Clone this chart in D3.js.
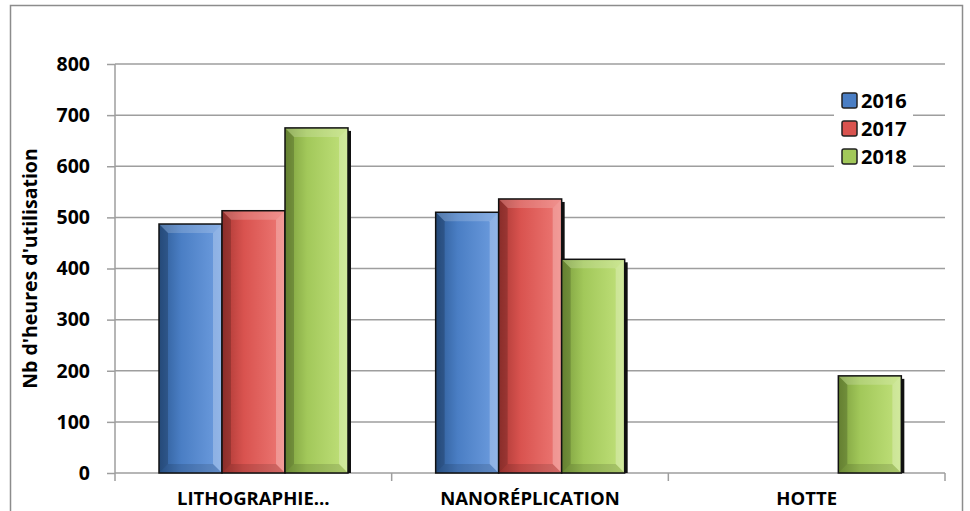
<!DOCTYPE html>
<html>
<head>
<meta charset="utf-8">
<script src="https://cdn.jsdelivr.net/npm/d3@7"></script>
<style>
  body { margin: 0; background: #fff; }
  text { font-family: "Open Sans", sans-serif; font-weight: bold; fill: #000; }
</style>
</head>
<body>
<svg id="vimage" width="970" height="511"></svg>
<script>
//---------------------------------------- data ---------------------------------------
var categories = ["LITHOGRAPHIE…", "NANORÉPLICATION", "HOTTE"];
var years = ["2016", "2017", "2018"];
var values2016 = [487, 510, 0];
var values2017 = [513, 536, 0];
var values2018 = [675, 418, 190];
var yTicks = [0, 100, 200, 300, 400, 500, 600, 700, 800];

var seriesValues = [values2016, values2017, values2018];
var colors = {"2016": "#4a7ec4", "2017": "#d9534f", "2018": "#a2c85a"};
var dark = {"2016": "#2d5a94", "2017": "#a83733", "2018": "#7a9c3c"};
var light = {"2016": "#6f9ee0", "2017": "#ee7a76", "2018": "#c2e27c"};

var svg = d3.select("#vimage");

// outer frame (bottom edge is cut off)
svg.append("rect")
    .attr("x", 10.5).attr("y", 5.5)
    .attr("width", 952).attr("height", 520)
    .style("fill", "white")
    .style("stroke", "#8c8c8c")
    .style("stroke-width", 1.5);

var plotLeft = 115, plotRight = 945, plotTop = 64, plotBottom = 473;

var x = d3.scaleBand().domain(categories).range([plotLeft, plotRight]);
var xs = d3.scaleBand().domain(years).range([44, 233]);
var y = d3.scaleLinear().domain([0, 800]).range([plotBottom, plotTop]);

//---------------------------------------- grid + axes ---------------------------------------
svg.append("g").selectAll("line")
    .data(yTicks.slice(1))
    .enter().append("line")
    .attr("x1", plotLeft).attr("x2", plotRight)
    .attr("y1", function(d) { return y(d); })
    .attr("y2", function(d) { return y(d); })
    .style("stroke", "#9e9e9e")
    .style("stroke-width", 1.5);

var yAxis = svg.append("g")
    .attr("transform", "translate(" + plotLeft + ",0)")
    .call(d3.axisLeft(y).tickValues(yTicks).tickSize(8).tickPadding(17));
yAxis.selectAll("line, path").style("stroke", "#9e9e9e").style("stroke-width", 1.5);
yAxis.select(".domain").attr("d", "M0," + plotTop + "V" + plotBottom);
yAxis.selectAll("text").style("font-size", "19.5px").style("font-family", "'Open Sans', sans-serif").style("font-weight", "bold").attr("fill", "#000");

var xAxis = svg.append("g")
    .attr("transform", "translate(0," + plotBottom + ")")
    .call(d3.axisBottom(x).tickSize(0).tickPadding(19));
xAxis.select(".domain").remove();
xAxis.selectAll("text").style("font-size", "18.5px").style("font-family", "'Open Sans', sans-serif").style("font-weight", "bold").attr("fill", "#000");

// tick marks at category boundaries
var bounds = categories.map(function(c) { return x(c); }).concat([plotRight]);
svg.append("line")
    .attr("x1", plotLeft).attr("x2", plotRight).attr("y1", plotBottom).attr("y2", plotBottom)
    .style("stroke", "#9e9e9e").style("stroke-width", 1.5);
svg.append("g").selectAll("line")
    .data(bounds)
    .enter().append("line")
    .attr("x1", function(d) { return d; }).attr("x2", function(d) { return d; })
    .attr("y1", plotBottom).attr("y2", plotBottom + 8)
    .style("stroke", "#9e9e9e").style("stroke-width", 1.5);

svg.append("text")
    .attr("transform", "translate(37," + ((plotTop + plotBottom) / 2) + ") rotate(-90)")
    .attr("text-anchor", "middle")
    .style("font-size", "19.5px")
    .text("Nb d'heures d'utilisation");

//---------------------------------------- bars ---------------------------------------
var barData = [];
categories.forEach(function(c, i) {
    years.forEach(function(yr, j) {
        if (seriesValues[j][i] > 0) barData.push({cat: c, year: yr, value: seriesValues[j][i]});
    });
});

var defs = svg.append("defs");
years.forEach(function(yr) {
    var g = defs.append("linearGradient").attr("id", "grad" + yr)
        .attr("x1", "0").attr("x2", "1").attr("y1", "0").attr("y2", "0");
    g.append("stop").attr("offset", "0").attr("stop-color", dark[yr]);
    g.append("stop").attr("offset", "0.35").attr("stop-color", colors[yr]);
    g.append("stop").attr("offset", "1").attr("stop-color", light[yr]);
});

var bars = svg.append("g").selectAll("g")
    .data(barData)
    .enter().append("g");

// shadow on the right
bars.append("rect")
    .attr("x", function(d) { return x(d.cat) + xs(d.year) + 3; })
    .attr("y", function(d) { return y(d.value) + 3; })
    .attr("width", xs.bandwidth())
    .attr("height", function(d) { return plotBottom - y(d.value) - 3; })
    .style("fill", "#111");

bars.append("rect")
    .attr("x", function(d) { return x(d.cat) + xs(d.year); })
    .attr("y", function(d) { return y(d.value); })
    .attr("width", xs.bandwidth())
    .attr("height", function(d) { return plotBottom - y(d.value); })
    .style("fill", function(d) { return "url(#grad" + d.year + ")"; });

var b = 9;
function bevel(d, side) {
    var x0 = x(d.cat) + xs(d.year), x1 = x0 + xs.bandwidth();
    var y0 = y(d.value), y1 = plotBottom;
    var p;
    if (side == "top") p = [[x0, y0], [x1, y0], [x1 - b, y0 + b], [x0 + b, y0 + b]];
    if (side == "right") p = [[x1, y0], [x1, y1], [x1 - b, y1 - b], [x1 - b, y0 + b]];
    if (side == "bottom") p = [[x0, y1], [x1, y1], [x1 - b, y1 - b], [x0 + b, y1 - b]];
    if (side == "left") p = [[x0, y0], [x0 + b, y0 + b], [x0 + b, y1 - b], [x0, y1]];
    return "M" + p.join("L") + "Z";
}
[["top", "#fff", 0.18], ["right", "#fff", 0.25], ["bottom", "#000", 0.12], ["left", "#000", 0.18]].forEach(function(s) {
    bars.append("path")
        .attr("d", function(d) { return bevel(d, s[0]); })
        .style("fill", s[1])
        .style("fill-opacity", s[2]);
});

bars.append("rect")
    .attr("x", function(d) { return x(d.cat) + xs(d.year); })
    .attr("y", function(d) { return y(d.value); })
    .attr("width", xs.bandwidth())
    .attr("height", function(d) { return plotBottom - y(d.value); })
    .style("fill", "none")
    .style("stroke", "#111")
    .style("stroke-width", 1.5);

//---------------------------------------- legend ---------------------------------------
var legend = svg.append("g").attr("transform", "translate(834,86)");
legend.append("rect").attr("x", 0).attr("y", 0).attr("width", 79).attr("height", 84).style("fill", "white");

var legendElements = legend.selectAll("g.item")
    .data(years)
    .enter().append("g")
    .attr("class", "item")
    .attr("transform", function(d, i) { return "translate(8," + (7 + i * 28) + ")"; });

legendElements.append("rect")
    .attr("x", 0).attr("y", 0).attr("width", 15).attr("height", 15)
    .attr("rx", 2)
    .style("fill", function(d) { return colors[d]; })
    .style("stroke", "#222")
    .style("stroke-width", 1.5);

legendElements.append("text")
    .attr("x", 19).attr("y", 15)
    .style("font-size", "20px")
    .text(function(d) { return d; });
</script>
</body>
</html>
